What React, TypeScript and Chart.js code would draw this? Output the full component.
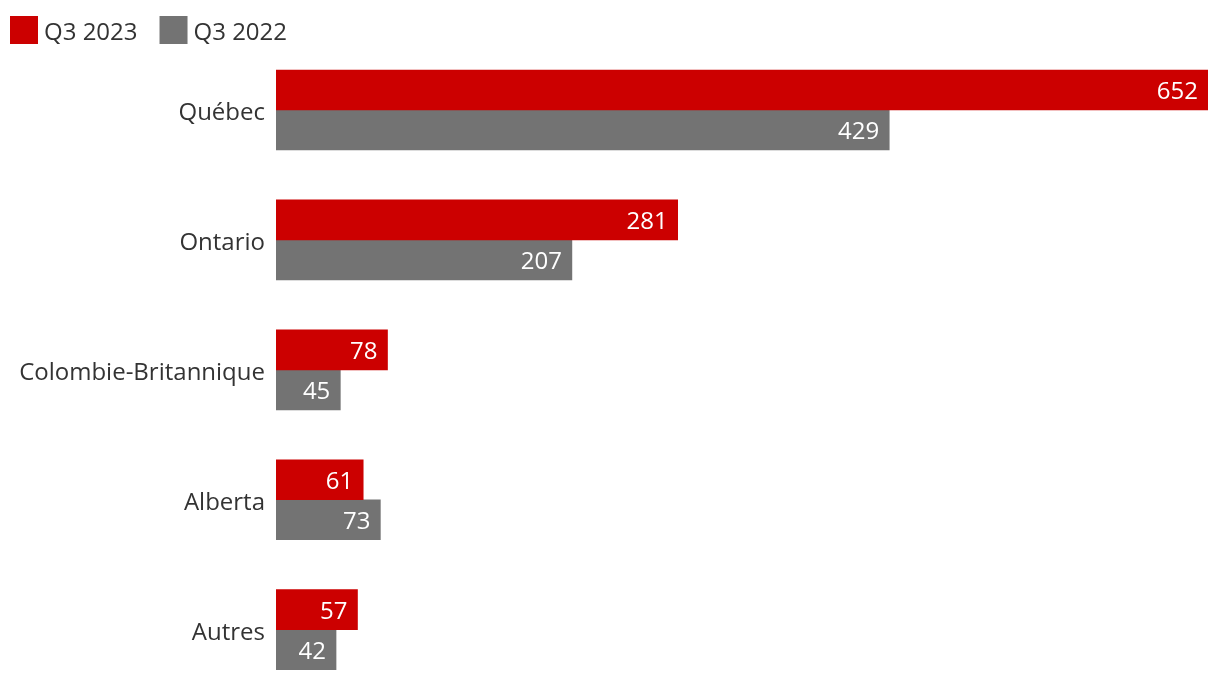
import React, { useEffect, useRef } from "react";
import { Chart, registerables } from "chart.js";

Chart.register(...registerables);

const categories = ["Québec", "Ontario", "Colombie-Britannique", "Alberta", "Autres"];
const seriesNames = ["Q3 2023", "Q3 2022"];
const q3_2023 = [652, 281, 78, 61, 57];
const q3_2022 = [429, 207, 45, 73, 42];
const colors = ["#CC0000", "#737373"];

const FONT = "'Open Sans', 'Noto Sans', sans-serif";
const TEXT = "#333333";

const valueLabels = {
  id: "valueLabels",
  afterDatasetsDraw(chart: any) {
    const ctx = chart.ctx;
    ctx.save();
    ctx.font = `24px ${FONT}`;
    ctx.fillStyle = "#ffffff";
    ctx.textAlign = "right";
    ctx.textBaseline = "alphabetic";
    chart.data.datasets.forEach((ds: any, di: number) => {
      const meta = chart.getDatasetMeta(di);
      meta.data.forEach((bar: any, i: number) => {
        ctx.fillText(String(ds.data[i]), bar.x - 10, bar.y + 9);
      });
    });
    // category labels
    const y = chart.scales.y;
    ctx.fillStyle = TEXT;
    chart.data.labels.forEach((lab: string, i: number) => {
      ctx.fillText(lab, y.right - 11, y.getPixelForValue(i) + 10);
    });
    ctx.restore();
  },
};

const customLegend = {
  id: "customLegend",
  afterDraw(chart: any) {
    const ctx = chart.ctx;
    ctx.save();
    ctx.font = `24px ${FONT}`;
    ctx.textBaseline = "alphabetic";
    ctx.textAlign = "left";
    let x = 10;
    chart.data.datasets.forEach((ds: any) => {
      ctx.fillStyle = ds.backgroundColor;
      ctx.fillRect(x, 16, 28, 28);
      ctx.fillStyle = TEXT;
      ctx.fillText(ds.label, x + 34, 40);
      x += 34 + ctx.measureText(ds.label).width + 22;
    });
    ctx.restore();
  },
};

export default function App() {
  const ref = useRef<HTMLCanvasElement>(null);
  useEffect(() => {
    document.body.style.margin = "0";
    document.documentElement.style.overflow = "hidden";
    const chart = new Chart(ref.current!, {
      type: "bar",
      data: {
        labels: categories,
        datasets: [
          { label: seriesNames[0], data: q3_2023, backgroundColor: colors[0], barThickness: 40 },
          { label: seriesNames[1], data: q3_2022, backgroundColor: colors[1], barThickness: 40 },
        ],
      },
      options: {
        indexAxis: "y",
        responsive: true,
        maintainAspectRatio: false,
        animation: false,
        layout: { padding: { top: 45, right: 12, bottom: 5, left: 0 } },
        plugins: {
          legend: { display: false },
          tooltip: { enabled: false },
        },
        scales: {
          x: { display: false, min: 0, max: 652 },
          y: {
            grid: { display: false, drawTicks: false },
            border: { display: false },
            ticks: { color: "rgba(0,0,0,0)", font: { size: 24, family: FONT }, padding: 11 },
            afterFit: (s: any) => {
              s.width = 276;
            },
          },
        },
      },
      plugins: [valueLabels, customLegend],
    });
    return () => chart.destroy();
  }, []);
  return (
    <div style={{ width: 1220, height: 682, overflow: "hidden" }}>
      <div style={{ position: "relative", width: 1220, height: 720 }}>
        <canvas ref={ref} />
      </div>
    </div>
  );
}
